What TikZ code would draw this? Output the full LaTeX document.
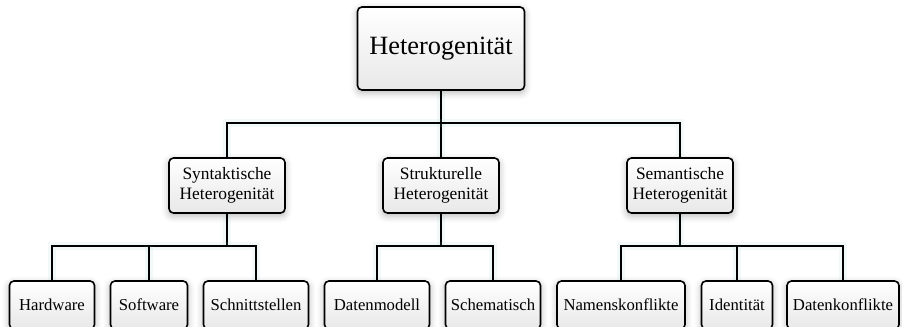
\documentclass[tikz,border=0pt]{standalone}
\usepackage{fontspec}
\setmainfont{Liberation Serif}
\usetikzlibrary{shadows.blur}

\tikzset{
  box/.style={draw=black, line width=0.9pt, rounded corners=2.5pt,
    top color=white, bottom color=gray!18, align=center, inner sep=0pt,
    blur shadow={shadow xshift=0pt, shadow yshift=-1.5pt,
      shadow blur radius=4pt, shadow opacity=30}},
  topbox/.style={box, minimum width=3.34cm, minimum height=1.66cm,
    font=\fontsize{15}{18}\selectfont},
  midbox/.style={box, minimum height=1.1cm, font=\fontsize{9.9}{11.4}\selectfont},
  leafbox/.style={box, minimum height=0.96cm, font=\fontsize{9.5}{11}\selectfont},
  link/.style={line width=1pt,
    preaction={draw, line width=4pt, teal!40!white, opacity=0.12}}
}

\begin{document}
\begin{tikzpicture}[x=0.02cm, y=-0.02cm]

\useasboundingbox ( 0, 0 ) rectangle ( 902, 326 );

% Bus lines
\coordinate (bus) at ( 0, 123 );
\coordinate (subbus) at ( 0, 246 );

% Top level
\node [topbox] (het) at ( 441, 48.5 ) {Heterogenität};

% Second level
\node [midbox, minimum width=2.32cm] (syn) at ( 227, 185.5 ) {Syntaktische\\Heterogenität};
\node [midbox, minimum width=2.32cm] (str) at ( 441, 185.5 ) {Strukturelle\\Heterogenität};
\node [midbox, minimum width=2.12cm] (sem) at ( 680, 185.5 ) {Semantische\\Heterogenität};

% Leaves
\node [leafbox, minimum width=1.70cm] (hw)  at ( 52, 305 ) {Hardware};
\node [leafbox, minimum width=1.54cm] (sw)  at ( 149, 305 ) {Software};
\node [leafbox, minimum width=2.10cm] (sst) at ( 256, 305 ) {Schnittstellen};
\node [leafbox, minimum width=2.10cm] (dm)  at ( 377, 305 ) {Datenmodell};
\node [leafbox, minimum width=1.90cm] (sch) at ( 493, 305 ) {Schematisch};
\node [leafbox, minimum width=2.56cm] (nk)  at ( 621, 305 ) {Namenskonflikte};
\node [leafbox, minimum width=1.42cm] (id)  at ( 737, 305 ) {Identität};
\node [leafbox, minimum width=2.24cm] (dk)  at ( 843, 305 ) {Datenkonflikte};

% Connectors, top level
\draw [link] (het.south) -- (str.north);
\draw [link] (syn.north) -- (syn.north |- bus) -| (sem.north);

% Connectors, syntactic
\draw [link] (syn.south) -- (syn.south |- subbus);
\draw [link] (hw.north) -- (hw.north |- subbus) -| (sst.north);
\draw [link] (sw.north) -- (sw.north |- subbus);

% Connectors, structural
\draw [link] (str.south) -- (str.south |- subbus);
\draw [link] (dm.north) -- (dm.north |- subbus) -| (sch.north);

% Connectors, semantic
\draw [link] (sem.south) -- (sem.south |- subbus);
\draw [link] (nk.north) -- (nk.north |- subbus) -| (dk.north);
\draw [link] (id.north) -- (id.north |- subbus);

\end{tikzpicture}
\end{document}
